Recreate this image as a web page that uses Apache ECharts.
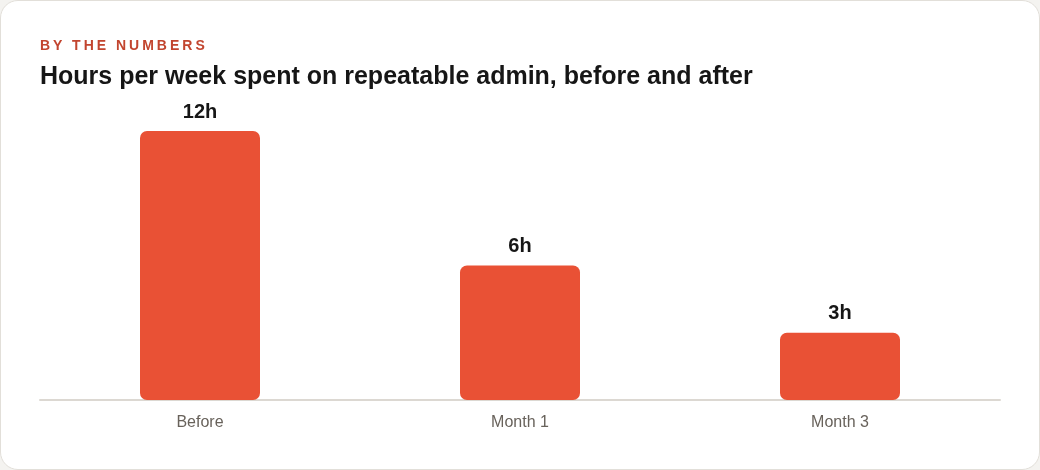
<!DOCTYPE html>
<html>
<head>
<meta charset="utf-8">
<script src="https://cdn.jsdelivr.net/npm/echarts@6/dist/echarts.min.js"></script>
<style>
  html, body { margin: 0; padding: 0; background: #f4f3f0; }
  .card {
    position: relative;
    width: 1038px; height: 468px;
    background: #fff;
    border: 1px solid #e2dfd9;
    border-radius: 18px;
    overflow: hidden;
  }
  .kicker {
    position: absolute; left: 39px; top: 36px;
    font-family: "Liberation Sans", Arial, sans-serif;
    font-size: 14px; font-weight: bold;
    letter-spacing: 3px;
    color: #c2452f;
  }
  #chart { position: absolute; left: 0; top: 0; width: 1038px; height: 468px; }
</style>
</head>
<body>
<div class="card">
  <div id="chart"></div>
  <div class="kicker">BY THE NUMBERS</div>
</div>
<script>
// data
const categories = ['Before', 'Month 1', 'Month 3']
const hours = [12, 6, 3]

const chart = echarts.init(document.getElementById('chart'))

chart.setOption({
  animation: false,
  title: {
    text: 'Hours per week spent on repeatable admin, before and after',
    left: 34,
    top: 59,
    textStyle: {
      fontFamily: '"Liberation Sans", Arial, sans-serif',
      fontSize: 25,
      fontWeight: 'bold',
      color: '#161616'
    }
  },
  grid: {
    left: 39,
    right: 39,
    top: 130,
    bottom: 69,
    containLabel: false
  },
  xAxis: {
    type: 'category',
    data: categories,
    axisLine: { lineStyle: { color: '#dcd8d2', width: 2 } },
    axisTick: { show: false },
    axisLabel: {
      margin: 15,
      fontFamily: '"Liberation Sans", Arial, sans-serif',
      fontSize: 16,
      color: '#68625b'
    }
  },
  yAxis: {
    type: 'value',
    min: 0,
    max: 12,
    show: false,
    splitLine: { show: false }
  },
  series: [
    {
      type: 'bar',
      data: hours,
      barWidth: 120,
      itemStyle: {
        color: '#e95135',
        borderRadius: [7, 7, 7, 7]
      },
      label: {
        show: true,
        position: 'top',
        distance: 9,
        formatter: (p) => p.value + 'h',
        fontFamily: '"Liberation Sans", Arial, sans-serif',
        fontSize: 20,
        fontWeight: 'bold',
        color: '#161616'
      }
    }
  ]
})
</script>
</body>
</html>
